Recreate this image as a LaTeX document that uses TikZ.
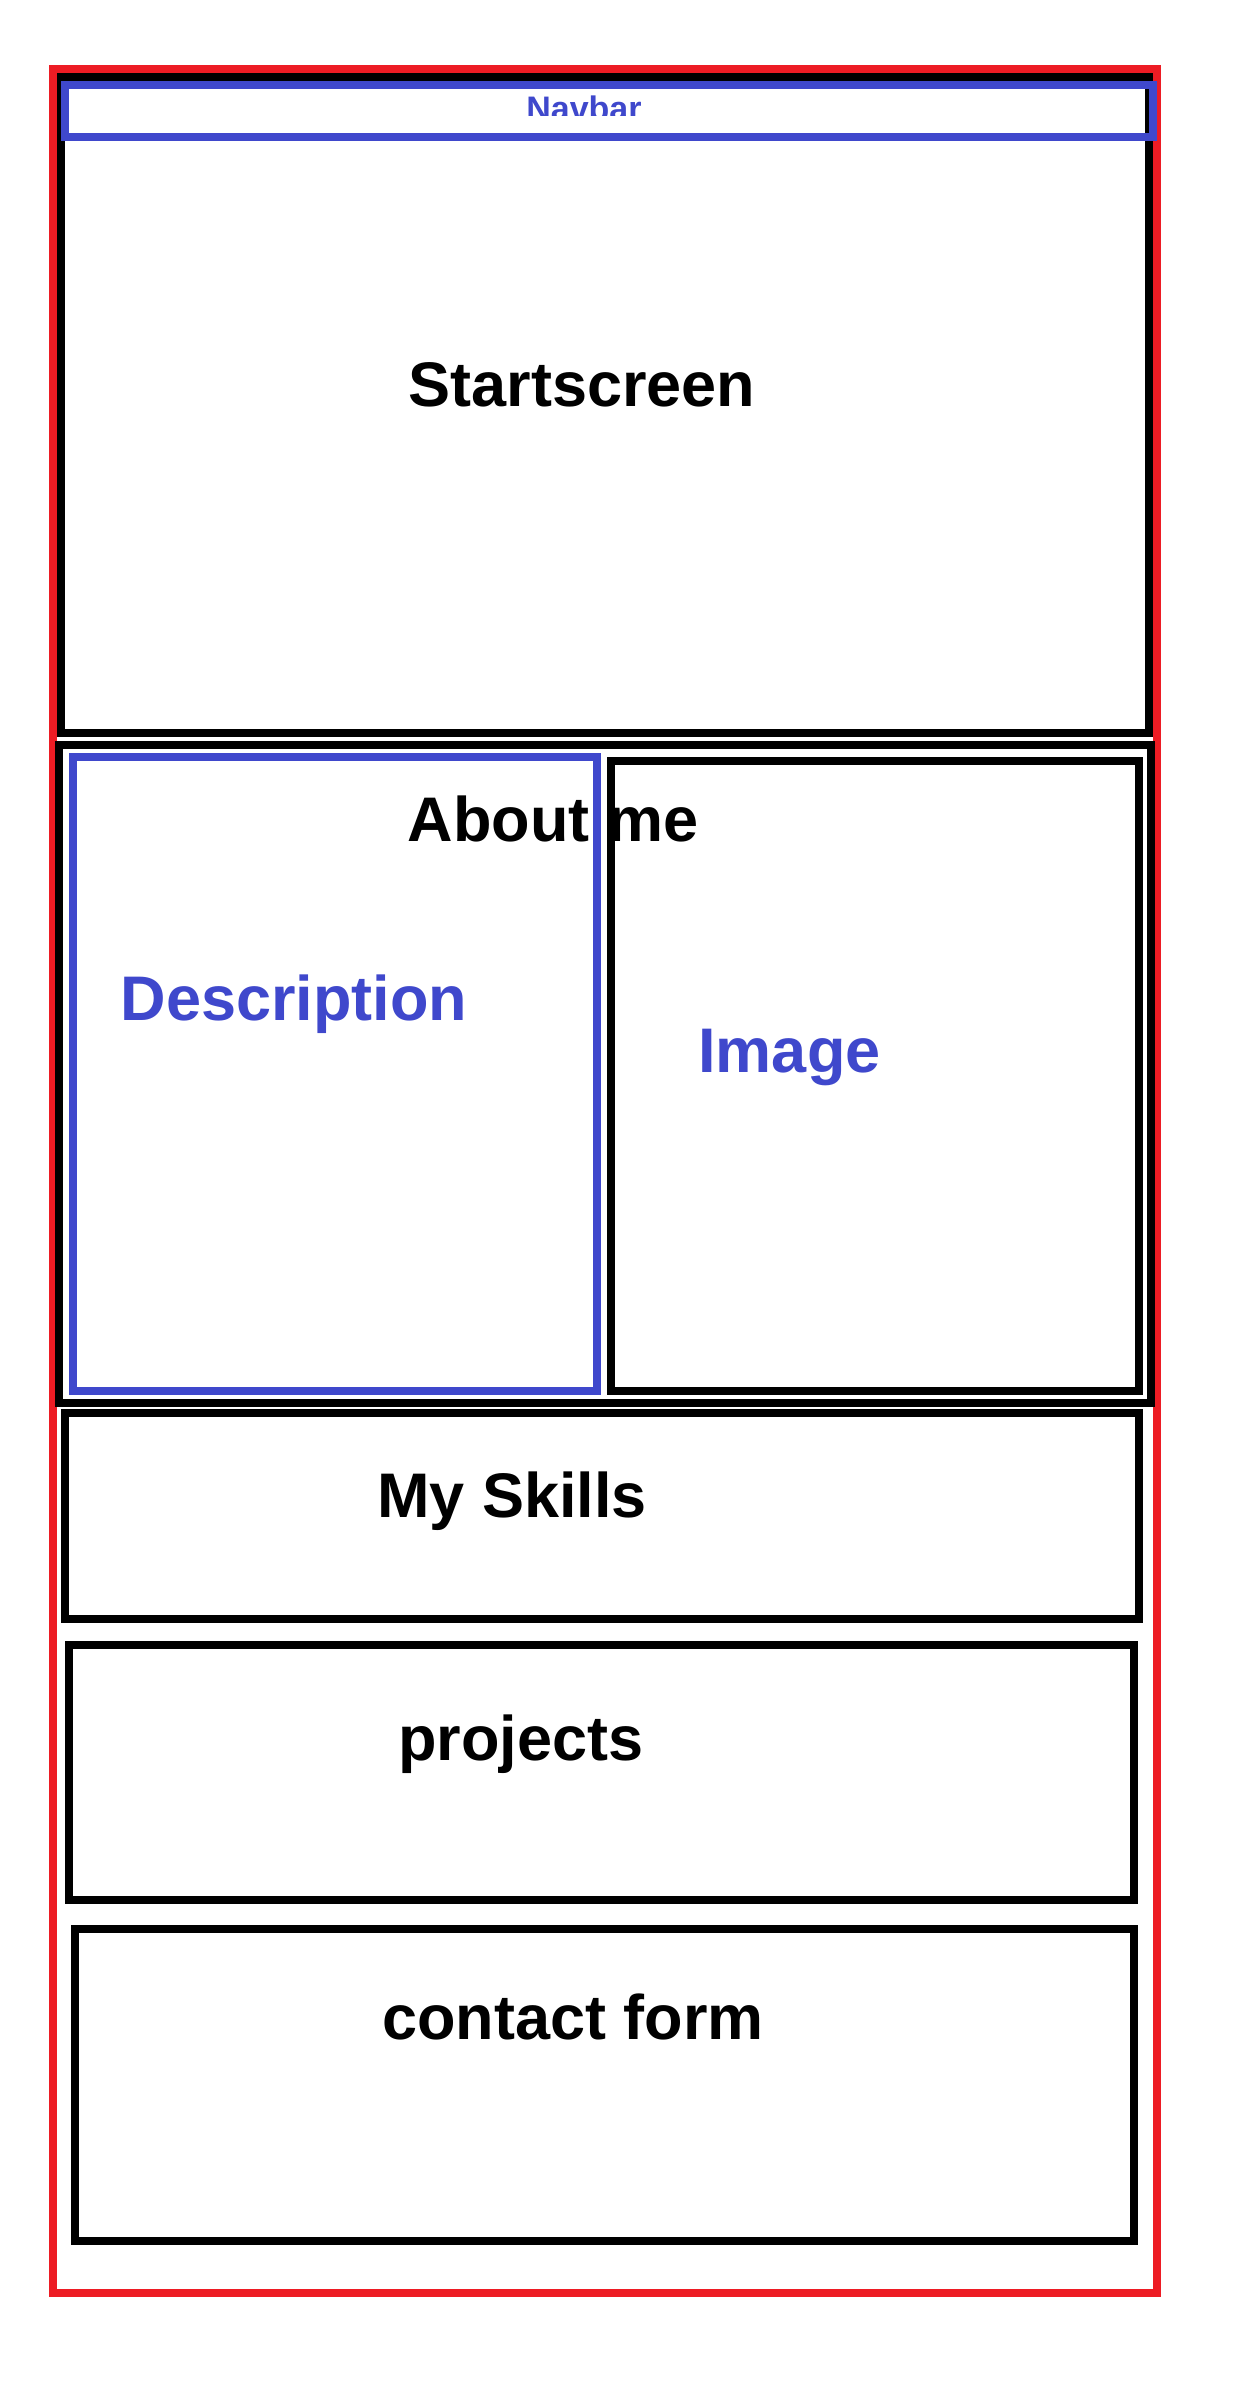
\documentclass[tikz,border=0pt]{standalone}
\usepackage{fontspec}
\setmainfont{Liberation Sans}
\definecolor{wfred}{RGB}{237,28,36}
\definecolor{wfblue}{RGB}{63,72,204}
\begin{document}
\begin{tikzpicture}[x=1pt,y=-1pt,
  frame/.style={draw, line width=8pt, fill=none, inner sep=0pt, outer sep=0pt},
  redframe/.style={frame, draw=wfred},
  blackframe/.style={frame, draw=black},
  blueframe/.style={frame, draw=wfblue},
  title/.style={anchor=base, inner sep=0pt, font=\fontsize{63}{70}\selectfont\bfseries},
  bluetitle/.style={title, text=wfblue},
  navtitle/.style={anchor=base, inner sep=0pt, text=wfblue, font=\fontsize{34}{40}\selectfont\bfseries}]
\useasboundingbox[fill=white] (0,0) rectangle (1240,2384);

% outer page frame
\node[redframe, minimum width=1104pt, minimum height=2224pt] (page) at (605,1181) {};

% header block: navbar + start screen
\node[blackframe, minimum width=1088pt, minimum height=656pt] (start) at (605,405) {};
\node[blueframe, minimum width=1088pt, minimum height=52pt] (navbar) at (609,111) {};
\begin{scope}
  \clip (70,89) rectangle (1148,116);
  \node[navtitle] (navlabel) at (584,120.5) {Navbar};
\end{scope}
\node[title] (startlabel) at (582,406.7) {Startscreen};

% about section
\node[blackframe, minimum width=1092.5pt, minimum height=658pt] (about) at (604.75,1074) {};
\node[blueframe, minimum width=524pt, minimum height=633.5pt] (desc) at (335,1073.75) {};
\node[blackframe, minimum width=528pt, minimum height=629.5pt] (image) at (875,1075.75) {};
\node[title] (aboutlabel) at (553,841.7) {About me};
\node[bluetitle] (desclabel) at (294,1020) {Description};
\node[bluetitle] (imagelabel) at (789.5,1072.5) {Image};

% skills
\node[blackframe, minimum width=1074.5pt, minimum height=206pt] (skills) at (601.75,1516) {};
\node[title] (skillslabel) at (512,1517.3) {My Skills};

% projects
\node[blackframe, minimum width=1065.4pt, minimum height=255pt] (projects) at (601.3,1772.5) {};
\node[title] (projectslabel) at (521,1760) {projects};

% contact form
\node[blackframe, minimum width=1059pt, minimum height=312pt] (contact) at (604.5,2085) {};
\node[title] (contactlabel) at (573,2039) {contact form};
\end{tikzpicture}
\end{document}
